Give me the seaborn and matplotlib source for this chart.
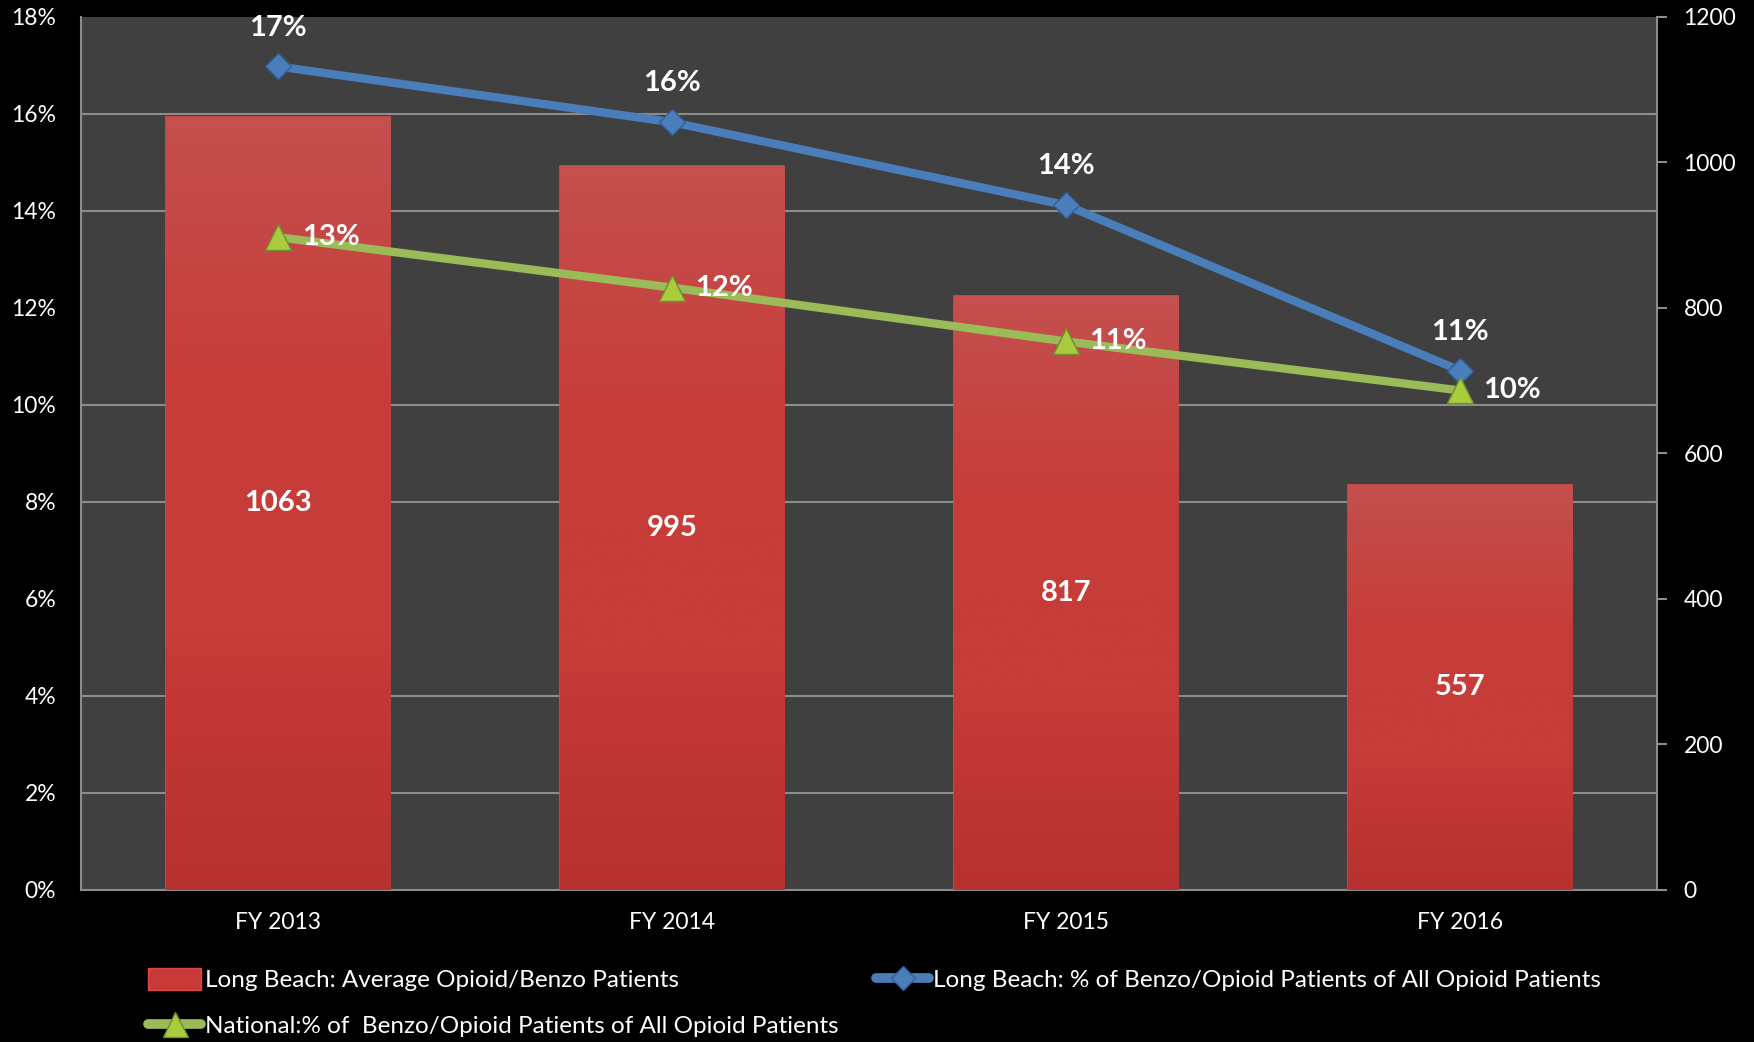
import numpy as np
import pandas as pd
import matplotlib
matplotlib.use("Agg")
import matplotlib.pyplot as plt
import seaborn as sns
from matplotlib.lines import Line2D
from matplotlib.patches import Patch
from matplotlib.colors import LinearSegmentedColormap
from matplotlib.ticker import FuncFormatter, MultipleLocator

# ---- data ----
years = ["FY 2013", "FY 2014", "FY 2015", "FY 2016"]
avg_patients = [1063, 995, 817, 557]
lb_pct = [16.98, 15.83, 14.12, 10.71]
nat_pct = [13.46, 12.42, 11.31, 10.30]
lb_labels = ["17%", "16%", "14%", "11%"]
nat_labels = ["13%", "12%", "11%", "10%"]
bar_name = "Long Beach: Average Opioid/Benzo Patients"
lb_name = "Long Beach: % of Benzo/Opioid Patients of All Opioid Patients"
nat_name = "National:% of  Benzo/Opioid Patients of All Opioid Patients"

sns.set_theme(style="dark")
plt.rcParams["font.family"] = ["Lato", "DejaVu Sans"]

BG = "#000000"
PLOT_BG = "#404040"
GRID = "#8c8c8c"
BLUE = "#4a7ebb"
GREEN = "#9bbb59"
RED = "#c83a38"

fig = plt.figure(figsize=(17.54, 10.42), dpi=100, facecolor=BG)
ax_bar = fig.add_axes([0.0462, 0.1459, 0.8985, 0.8378])
ax_bar.set_facecolor(PLOT_BG)

df = pd.DataFrame({"year": years, "patients": avg_patients})
sns.barplot(data=df, x="year", y="patients", ax=ax_bar, color=RED,
            width=0.57, saturation=1, edgecolor="#e04848", linewidth=1.2,
            zorder=3)

# gradient fill clipped to each bar
cmap = LinearSegmentedColormap.from_list(
    "bargrad", ["#b63130", "#c73b38", "#c73d3a", "#c4504e"])
grad = np.linspace(0, 1, 256).reshape(-1, 1)
for p in list(ax_bar.patches):
    x0, y0 = p.get_x(), p.get_y()
    w, h = p.get_width(), p.get_height()
    im = ax_bar.imshow(grad, cmap=cmap, aspect="auto", origin="lower",
                       extent=(x0, x0 + w, y0, y0 + h), zorder=3.5)
    im.set_clip_path(p)
    ax_bar.text(x0 + w / 2, y0 + h / 2, f"{int(round(h))}", color="white",
                fontsize=21, fontweight="bold", ha="center", va="center",
                zorder=6)

# line axis (percent) on left
ax_line = ax_bar.twinx()
ax_line.patch.set_visible(False)
sns.pointplot(x=years, y=lb_pct, ax=ax_line, color=BLUE, markers="D",
              linestyles="-", linewidth=6, markersize=13,
              markeredgecolor="#2f5f99", markeredgewidth=1, errorbar=None)
sns.pointplot(x=years, y=nat_pct, ax=ax_line, color=GREEN, markers="^",
              linestyles="-", linewidth=6, markersize=19,
              markeredgecolor="#6f8f30", markerfacecolor="#a9cc3c",
              markeredgewidth=1, errorbar=None)
ax_line.set_xlim(-0.5, 3.5)
ax_line.set_ylim(0, 18)
ax_line.yaxis.tick_left()
ax_line.yaxis.set_major_locator(MultipleLocator(2))
ax_line.yaxis.set_major_formatter(FuncFormatter(lambda v, _: f"{int(round(v))}%"))
ax_line.tick_params(axis="y", colors=GRID, labelcolor="white", labelsize=16.5,
                    length=0, pad=18, left=True, right=False,
                    labelleft=True, labelright=False)
ax_line.grid(False)
ax_line.set_ylabel("")
for s in ax_line.spines.values():
    s.set_visible(False)

# bar axis (counts) on right
ax_bar.set_xlim(-0.5, 3.5)
ax_bar.set_ylim(0, 1200)
ax_bar.yaxis.tick_right()
ax_bar.yaxis.set_major_locator(MultipleLocator(200))
ax_bar.tick_params(axis="y", which="major", colors=GRID, labelcolor="white",
                   labelsize=16.5, length=7, width=1.5, pad=12, right=True,
                   left=False, labelright=True, labelleft=False)
ax_bar.set_yticks(np.linspace(0, 1200, 10), minor=True)
ax_bar.tick_params(axis="y", which="minor", length=0, left=False, right=False)
ax_bar.grid(False, which="major")
ax_bar.grid(True, which="minor", axis="y", color=GRID, linewidth=1.5, zorder=1)
ax_bar.set_axisbelow(True)
ax_bar.tick_params(axis="x", colors=GRID, labelcolor="white", labelsize=16.5,
                   length=0, pad=16)
ax_bar.set_xlabel("")
ax_bar.set_ylabel("")
ax_bar.spines["top"].set_visible(False)
for side in ["left", "right", "bottom"]:
    ax_bar.spines[side].set_visible(True)
    ax_bar.spines[side].set_color(GRID)
    ax_bar.spines[side].set_linewidth(1.5)

for i, (v, lab) in enumerate(zip(lb_pct, lb_labels)):
    ax_line.annotate(lab, (i, v), xytext=(0, 28), textcoords="offset points",
                     ha="center", va="center", color="white", fontsize=21,
                     fontweight="bold", zorder=7)
for i, (v, lab) in enumerate(zip(nat_pct, nat_labels)):
    ax_line.annotate(lab, (i, v), xytext=(17, 0), textcoords="offset points",
                     ha="left", va="center", color="white", fontsize=21,
                     fontweight="bold", zorder=7)

# legends
h_bar = Patch(facecolor=RED, edgecolor="#e04848", label=bar_name)
h_lb = Line2D([], [], color=BLUE, lw=7, marker="D", markersize=12,
              markeredgecolor="#2f5f99", label=lb_name)
h_nat = Line2D([], [], color=GREEN, lw=7, marker="^", markersize=18,
               markerfacecolor="#a9cc3c", markeredgecolor="#6f8f30",
               label=nat_name)
legA = fig.legend(handles=[h_bar, h_nat], loc="upper left",
                  bbox_to_anchor=(148 / 1754, 1 - 968 / 1042), frameon=False,
                  fontsize=17.5, labelcolor="white", handlelength=2.2,
                  handleheight=1.0, handletextpad=0.15, labelspacing=0.95,
                  borderpad=0, borderaxespad=0)
legB = fig.legend(handles=[h_lb], loc="upper left",
                  bbox_to_anchor=(876 / 1754, 1 - 968 / 1042), frameon=False,
                  fontsize=17.5, labelcolor="white", handlelength=2.2,
                  handleheight=1.0, handletextpad=0.15, borderpad=0,
                  borderaxespad=0)

fig.savefig("out.png", dpi=100, facecolor=BG)
